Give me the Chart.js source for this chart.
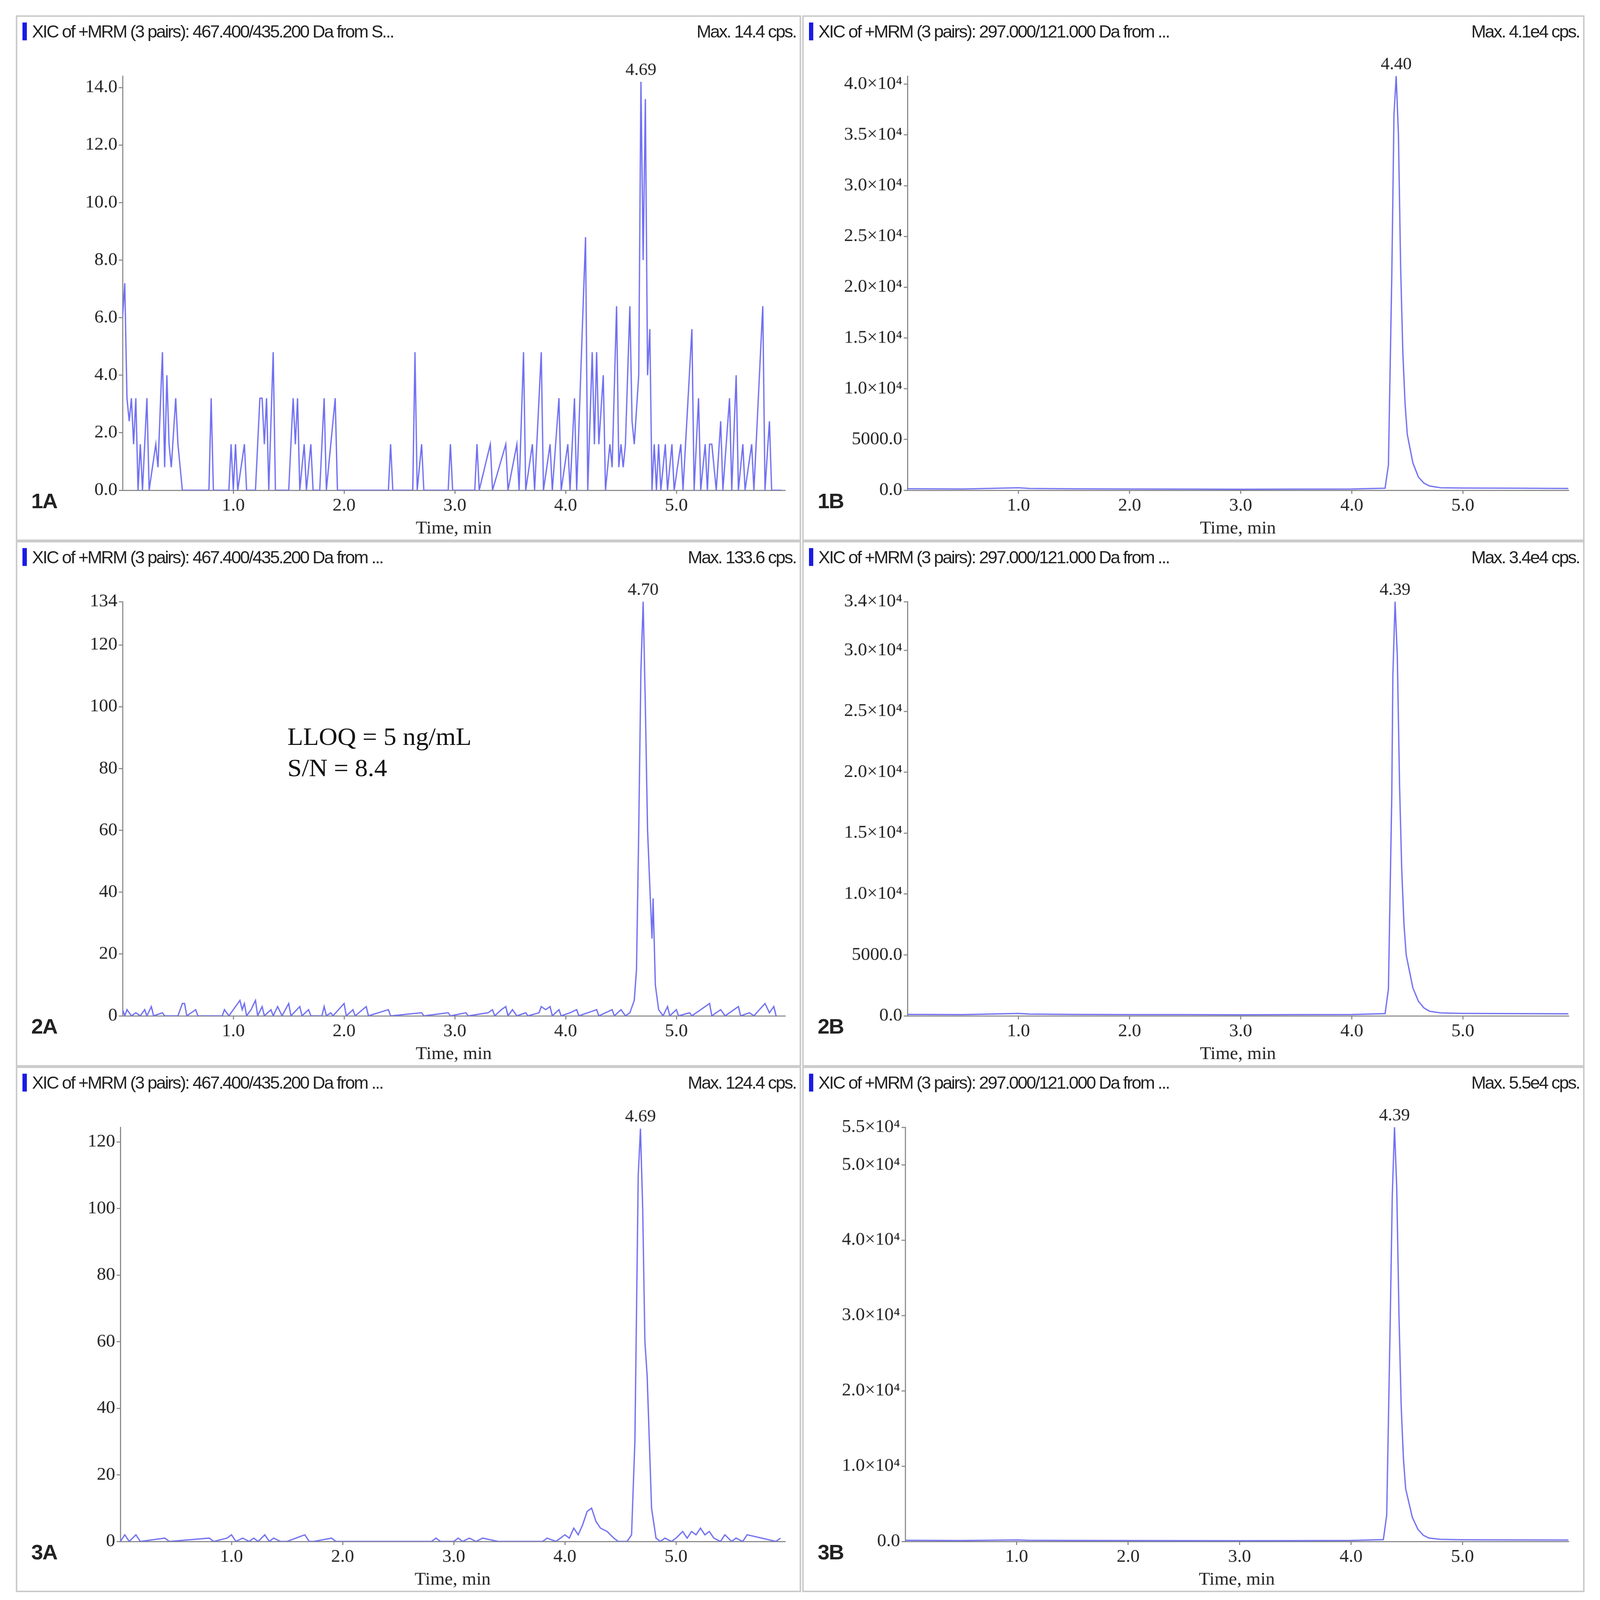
<!DOCTYPE html>
<html><head><meta charset="utf-8">
<script src="https://cdn.jsdelivr.net/npm/chart.js@4"></script>
<style>
html,body{margin:0;background:#fff;overflow:hidden;}
#root{position:absolute;left:0;top:0;width:4348px;height:4481px;transform-origin:0 0;background:#fff;}
.panel{position:absolute;border:4px solid #c8c8c8;box-sizing:border-box;background:#fff;}
.panel canvas{position:absolute;left:0;top:0;}
.hdr{position:absolute;top:14px;left:14px;right:10px;height:60px;font-family:"Liberation Sans Narrow","Liberation Sans",sans-serif;font-size:48px;color:#222;letter-spacing:-3px;white-space:nowrap;}
.hdr .bar{display:inline-block;width:12px;height:50px;background:#1a1ae6;vertical-align:-8px;margin-right:14px;}
.hdr .r{position:absolute;right:0;top:0;}
.lab{position:absolute;font-family:"Liberation Sans",sans-serif;font-weight:bold;font-size:58px;color:#222;letter-spacing:-2px;}
.note{position:absolute;font-family:"Liberation Serif",serif;font-size:70px;color:#111;line-height:88px;}
</style></head><body>
<div id="root"></div>
<script>
// ---- data ----
const xTicks = [1.0, 2.0, 3.0, 4.0, 5.0];

const t1A = [0.00,0.02,0.04,0.06,0.08,0.10,0.12,0.14,0.16,0.18,0.22,0.24,0.30,0.32,0.36,0.38,0.40,0.42,0.44,0.48,0.50,0.54,0.78,0.80,0.82,0.96,0.98,1.00,1.02,1.04,1.10,1.12,1.20,1.22,1.24,1.26,1.28,1.30,1.32,1.36,1.38,1.50,1.54,1.56,1.58,1.60,1.64,1.66,1.70,1.72,1.78,1.82,1.84,1.92,1.94,2.40,2.42,2.44,2.62,2.64,2.66,2.70,2.72,2.94,2.96,2.98,3.18,3.20,3.22,3.32,3.34,3.46,3.48,3.56,3.58,3.62,3.64,3.70,3.72,3.78,3.80,3.86,3.88,3.94,3.96,4.02,4.04,4.08,4.10,4.18,4.20,4.24,4.26,4.28,4.30,4.34,4.36,4.40,4.42,4.46,4.48,4.50,4.52,4.54,4.58,4.60,4.62,4.66,4.68,4.70,4.72,4.74,4.76,4.78,4.80,4.82,4.84,4.86,4.90,4.92,4.96,4.98,5.04,5.06,5.14,5.16,5.20,5.22,5.26,5.28,5.30,5.32,5.36,5.40,5.42,5.48,5.50,5.54,5.56,5.60,5.62,5.68,5.70,5.78,5.80,5.84,5.86,5.95];
const v1A = [6.0,7.2,3.2,2.4,3.2,1.6,3.2,0,1.6,0,3.2,0,1.6,0.8,4.8,0.8,4.0,1.6,0.8,3.2,1.6,0,0,3.2,0,0,1.6,0,1.6,0,1.6,0,0,1.6,3.2,3.2,1.6,3.2,0,4.8,0,0,3.2,1.6,3.2,0,1.6,0,1.6,0,0,3.2,0,3.2,0,0,1.6,0,0,4.8,0,1.6,0,0,1.6,0,0,1.6,0,1.6,0,1.6,0,1.6,0,4.8,0,1.6,0,4.8,0,1.6,0,3.2,0,1.6,0,3.2,0,8.8,0,4.8,1.6,4.8,1.6,4.0,0,1.6,0.8,6.4,0.8,1.6,0.8,1.6,6.4,2.4,1.6,4.0,14.2,8.0,13.6,4.0,5.6,0,1.6,0,1.6,0,1.6,0,1.6,0,1.6,0,5.6,0,3.2,0,1.6,0,1.6,1.6,0,2.4,0,3.2,0,4.0,0,1.6,0,1.6,0,6.4,0,2.4,0,0];

const t2A = [0.00,0.02,0.04,0.08,0.12,0.16,0.20,0.22,0.26,0.28,0.36,0.38,0.50,0.54,0.56,0.58,0.66,0.68,0.90,0.92,0.96,1.06,1.08,1.10,1.12,1.16,1.20,1.22,1.26,1.28,1.34,1.36,1.40,1.44,1.50,1.52,1.60,1.62,1.68,1.70,1.80,1.82,1.84,1.88,1.90,2.00,2.02,2.08,2.10,2.20,2.22,2.40,2.42,2.70,2.72,2.94,2.96,3.10,3.12,3.30,3.34,3.36,3.42,3.46,3.48,3.52,3.56,3.64,3.66,3.76,3.78,3.82,3.86,3.88,3.94,3.96,4.04,4.10,4.12,4.28,4.30,4.42,4.44,4.50,4.54,4.58,4.62,4.64,4.66,4.68,4.70,4.72,4.74,4.76,4.78,4.79,4.81,4.84,4.88,4.92,4.94,5.00,5.02,5.12,5.14,5.30,5.32,5.40,5.44,5.56,5.58,5.66,5.70,5.80,5.84,5.88,5.90];
const v2A = [2,0,2,0,1,0,2,0,3,0,1,0,0,4,4,0,2,0,0,2,0,5,2,4,0,2,5,0,3,0,2,0,3,0,4,0,3,0,2,0,0,3,0,1,0,4,0,2,0,3,0,2,0,1,0,1,0,1,0,1,2,0,2,3,0,2,0,1,0,1,3,2,3,0,2,0,1,2,0,2,0,2,0,2,0,1,5,15,60,112,134,100,60,42,25,38,10,2,0,3,0,2,0,1,0,4,0,2,0,3,0,1,0,4,1,3,0];

const t3A = [0.00,0.04,0.08,0.14,0.18,0.40,0.44,0.80,0.84,0.96,1.00,1.04,1.10,1.16,1.20,1.24,1.30,1.34,1.38,1.44,1.50,1.66,1.70,1.74,1.90,1.94,1.98,2.80,2.84,2.88,3.00,3.04,3.08,3.14,3.20,3.26,3.40,3.44,3.80,3.84,3.92,4.00,4.04,4.08,4.12,4.16,4.20,4.24,4.28,4.32,4.38,4.44,4.48,4.52,4.56,4.60,4.63,4.66,4.68,4.70,4.72,4.74,4.76,4.78,4.82,4.86,4.90,4.96,5.00,5.06,5.10,5.14,5.18,5.22,5.26,5.30,5.34,5.40,5.44,5.50,5.54,5.60,5.64,5.90,5.94];
const v3A = [0,2,0,2,0,1,0,1,0,1,2,0,1,0,1,0,2,0,1,0,0,2,0,0,1,0,0,0,1,0,0,1,0,1,0,1,0,0,0,1,0,2,1,4,2,5,9,10,6,4,3,1,0,0,0,2,30,110,124,100,60,50,30,10,1,0,1,0,1,3,1,3,2,4,2,3,1,0,2,0,1,0,2,0,1,0];

const t1B = [0.00,0.50,1.00,1.10,1.50,2.00,2.50,3.00,3.50,4.00,4.30,4.33,4.36,4.38,4.40,4.42,4.44,4.46,4.48,4.50,4.55,4.60,4.65,4.70,4.80,5.00,5.50,5.95];
const v1B = [150,120,250,180,140,120,110,100,110,120,200,2500,21000,37000,40800,35000,22000,13500,8500,5500,2700,1300,700,420,250,220,200,180];

const t2B = [0.00,0.50,1.00,1.10,1.50,2.00,2.50,3.00,3.50,4.00,4.30,4.33,4.36,4.37,4.39,4.41,4.43,4.45,4.47,4.49,4.55,4.60,4.65,4.70,4.80,5.00,5.50,5.95];
const v2B = [120,100,200,150,120,100,100,90,100,110,180,2200,18000,28000,34000,29500,19000,12000,7500,5000,2300,1200,650,380,240,200,180,170];

const t3B = [0.00,0.50,1.00,1.10,1.50,2.00,2.50,3.00,3.50,4.00,4.29,4.32,4.35,4.37,4.39,4.41,4.43,4.45,4.47,4.49,4.55,4.60,4.65,4.70,4.80,5.00,5.50,5.95];
const v3B = [150,120,200,160,130,120,110,100,110,130,250,3500,28000,46000,55000,47000,30000,18000,11000,7000,3200,1600,800,450,280,220,200,190];

const yT1A = [0,2,4,6,8,10,12,14];  const yL1A = ["0.0","2.0","4.0","6.0","8.0","10.0","12.0","14.0"];
const yT2A = [0,20,40,60,80,100,120,134]; const yL2A = ["0","20","40","60","80","100","120","134"];
const yT3A = [0,20,40,60,80,100,120]; const yL3A = ["0","20","40","60","80","100","120"];
const yT1B = [0,5000,10000,15000,20000,25000,30000,35000,40000];
const yL1B = ["0.0","5000.0","1.0×10⁴","1.5×10⁴","2.0×10⁴","2.5×10⁴","3.0×10⁴","3.5×10⁴","4.0×10⁴"];
const yT2B = [0,5000,10000,15000,20000,25000,30000,34000];
const yL2B = ["0.0","5000.0","1.0×10⁴","1.5×10⁴","2.0×10⁴","2.5×10⁴","3.0×10⁴","3.4×10⁴"];
const yT3B = [0,10000,20000,30000,40000,50000,55000];
const yL3B = ["0.0","1.0×10⁴","2.0×10⁴","3.0×10⁴","4.0×10⁴","5.0×10⁴","5.5×10⁴"];

const hdrA = ["XIC of +MRM (3 pairs): 467.400/435.200 Da  from S...","XIC of +MRM (3 pairs): 467.400/435.200 Da  from ...","XIC of +MRM (3 pairs): 467.400/435.200 Da  from ..."];
const hdrB = "XIC of +MRM (3 pairs): 297.000/121.000 Da  from ...";
const maxTxt = ["Max. 14.4 cps.","Max. 4.1e4 cps.","Max. 133.6 cps.","Max. 3.4e4 cps.","Max. 124.4 cps.","Max. 5.5e4 cps."];

// ---- layout ----
const root = document.getElementById('root');
root.style.transform = `scale(${innerWidth/4348},${innerHeight/4481})`;

const panels = [
 {id:"1A",x:43,y:43,w:2134,h:1472,t:t1A,v:v1A,yt:yT1A,yl:yL1A,ymax:14.4,xmax:5.98,pk:"4.69",pt:4.68,hdr:hdrA[0],mx:maxTxt[0],yw:286},
 {id:"1B",x:2180,y:43,w:2126,h:1472,t:t1B,v:v1B,yt:yT1B,yl:yL1B,ymax:40800,xmax:5.95,pk:"4.40",pt:4.40,hdr:hdrB,mx:maxTxt[1],yw:282},
 {id:"2A",x:43,y:1515,w:2134,h:1472,t:t2A,v:v2A,yt:yT2A,yl:yL2A,ymax:134,xmax:5.98,pk:"4.70",pt:4.70,hdr:hdrA[1],mx:maxTxt[2],yw:286},
 {id:"2B",x:2180,y:1515,w:2126,h:1472,t:t2B,v:v2B,yt:yT2B,yl:yL2B,ymax:34000,xmax:5.95,pk:"4.39",pt:4.39,hdr:hdrB,mx:maxTxt[3],yw:282},
 {id:"3A",x:43,y:2987,w:2134,h:1472,t:t3A,v:v3A,yt:yT3A,yl:yL3A,ymax:124.4,xmax:5.98,pk:"4.69",pt:4.68,hdr:hdrA[2],mx:maxTxt[4],yw:280},
 {id:"3B",x:2180,y:2987,w:2126,h:1472,t:t3B,v:v3B,yt:yT3B,yl:yL3B,ymax:55000,xmax:5.95,pk:"4.39",pt:4.39,hdr:hdrB,mx:maxTxt[5],yw:276},
];

const peakPlugin = {
  id:'peak',
  afterDatasetsDraw(chart, args, o){
    const {ctx, scales:{x,y}} = chart;
    ctx.save();
    ctx.font = '48px "Liberation Serif", serif';
    ctx.fillStyle = '#222'; ctx.textAlign='center'; ctx.textBaseline='bottom';
    ctx.fillText(o.label, x.getPixelForValue(o.time), y.getPixelForValue(o.ymax)-8);
    ctx.restore();
  }
};

panels.forEach(p=>{
  const d = document.createElement('div');
  d.className='panel';
  Object.assign(d.style,{left:p.x+'px',top:p.y+'px',width:p.w+'px',height:p.h+'px'});
  const cv = document.createElement('canvas');
  cv.width = p.w-8; cv.height = p.h-8;
  cv.style.width=(p.w-8)+'px'; cv.style.height=(p.h-8)+'px';
  d.appendChild(cv);
  d.insertAdjacentHTML('beforeend', `<div class="hdr"><span class="bar"></span>${p.hdr}<span class="r">${p.mx}</span></div><div class="lab" style="left:38px;top:${p.h-150}px">${p.id}</div>`);
  if(p.id==="2A") d.insertAdjacentHTML('beforeend','<div class="note" style="left:734px;top:500px">LLOQ = 5 ng/mL<br>S/N = 8.4</div>');
  root.appendChild(d);
  const yt=p.yt, yl=p.yl;
  new Chart(cv,{
    type:'line',
    data:{datasets:[{data:p.t.map((t,i)=>({x:t,y:p.v[i]})),borderColor:'#6f6ff2',borderWidth:3.5,pointRadius:0,tension:0,fill:false}]},
    plugins:[peakPlugin],
    options:{
      responsive:false,animation:false,devicePixelRatio:1,
      layout:{padding:{top:166,right:40,left:0,bottom:0}},
      plugins:{legend:{display:false},tooltip:{enabled:false},peak:{label:p.pk,time:p.pt,ymax:Math.max(...p.v)}},
      scales:{
        x:{type:'linear',min:0,max:p.xmax,
          afterBuildTicks(s){s.ticks=xTicks.map(v=>({value:v}));},
          afterFit(s){s.height=138;},
          border:{color:'#888',width:3},
          grid:{drawOnChartArea:false,color:'#888',tickLength:10,lineWidth:3},
          ticks:{color:'#222',font:{family:'"Liberation Serif", serif',size:50},padding:4,maxRotation:0,callback:v=>v.toFixed(1)},
          title:{display:true,text:'Time, min',color:'#222',font:{family:'"Liberation Serif", serif',size:50},padding:{top:0,bottom:0}}
        },
        y:{type:'linear',min:0,max:p.ymax,
          afterBuildTicks(s){s.ticks=yt.map(v=>({value:v}));},
          afterFit(s){s.width=p.yw;},
          border:{color:'#888',width:3},
          grid:{drawOnChartArea:false,color:'#888',tickLength:10,lineWidth:3},
          ticks:{color:'#222',font:{family:'"Liberation Serif", serif',size:50},padding:4,callback:(v)=>{const i=yt.indexOf(v);return i>=0?yl[i]:'';}}
        }
      }
    }
  });
});
</script>
</body></html>
